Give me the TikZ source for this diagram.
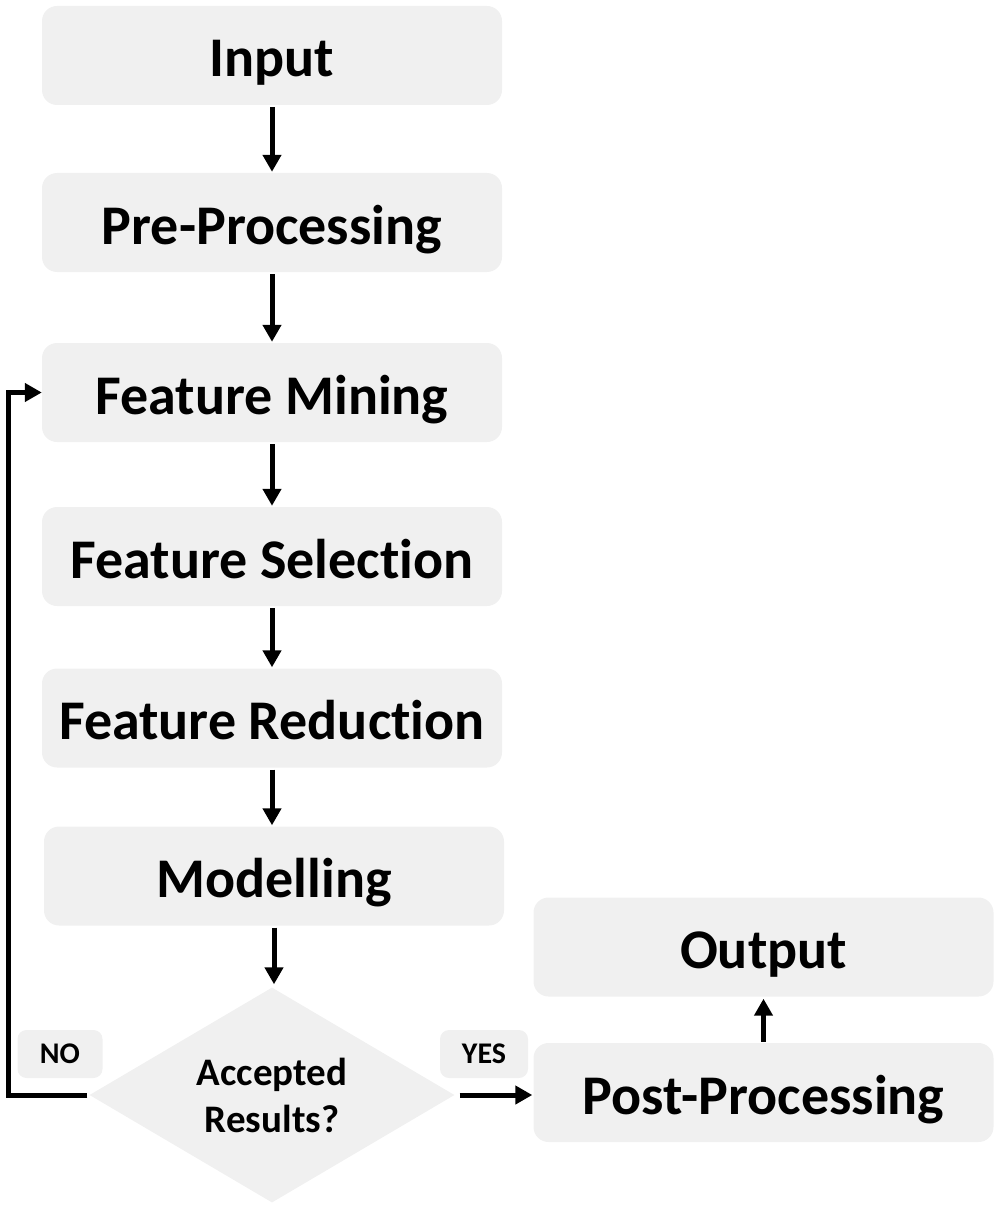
\documentclass[tikz,border=0pt]{standalone}
\usepackage{fontspec}
\setmainfont{Carlito}[RawFeature={-liga;-clig;-calt;-dlig}]
\usetikzlibrary{shapes.geometric, arrows.meta}
\definecolor{boxgray}{RGB}{240,240,240}

\begin{document}
\begin{tikzpicture}[x=1pt, y=-1pt,
                    every node/.style={font=\bfseries},
                    stepbox/.style={fill=boxgray, rounded corners=15pt, minimum width=460pt,
                                    minimum height=99pt, text height=43pt, text depth=0pt,
                                    font=\fontsize{56}{60}\selectfont\bfseries},
                    tagbox/.style={fill=boxgray, rounded corners=9pt, minimum height=48pt,
                                   font=\fontsize{30}{32}\selectfont\bfseries},
                    flow/.style={-{Triangle[width=18pt,length=17pt]}, line width=5pt}]
\useasboundingbox (0,0) rectangle (1000,1209);
% main column
\node[stepbox] (input) at (272,55.5) {Input};
\node[stepbox] (pre) at (272,222.5) {Pre-Processing};
\node[stepbox] (fm) at (272,392.5) {Feature Mining};
\node[stepbox] (fs) at (272,556.5) {Feature Selection};
\node[stepbox] (fr) at (272,718) {Feature Reduction};
\node[stepbox] (model) at (274,876) {Modelling};
\node[diamond, fill=boxgray, aspect=1.7, inner sep=0pt, minimum width=365pt, minimum height=215pt,
      align=center, font=\fontsize{39}{47}\selectfont\bfseries] (acc) at (272,1095) {Accepted\\Results?};
% right column
\node[stepbox] (post) at (763.5,1092.5) {Post-Processing};
\node[stepbox] (out) at (763.5,947) {Output};
% labels
\node[tagbox, minimum width=85pt] (no) at (60,1054) {NO};
\node[tagbox, minimum width=88pt] (yes) at (484,1054) {YES};
\coordinate (back) at (8,1095);
% arrows
\foreach \a/\b in {input/pre, pre/fm, fm/fs, fs/fr, fr/model}
  \draw[flow, shorten <=2pt, shorten >=1pt] (\a.south) -- (\a.south |- \b.north);
\draw[flow, shorten <=2pt, shorten >=3pt] (model.south) -- (model.south |- acc.north);
\draw[flow, shorten <=2pt] (acc.west) -- (back) |- (fm.west);
\draw[flow, shorten <=5pt, shorten >=1pt] (acc.east) -- (acc.east -| post.west);
\draw[flow, shorten <=1pt, shorten >=2pt] (post.north) -- (out.south);
\end{tikzpicture}
\end{document}
